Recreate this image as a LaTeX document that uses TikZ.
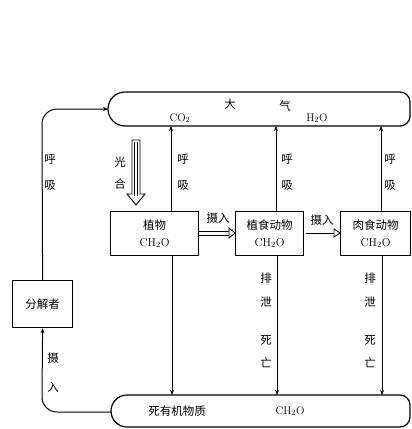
\documentclass[tikz,border=0pt]{standalone}
\usepackage{fontspec}
\newfontfamily\cjk{Noto Sans CJK SC}
\usetikzlibrary{arrows.meta}
\begin{document}
\begin{tikzpicture}[x=1pt,y=-1pt, line width=1pt,
 box/.style={draw, line width=1.2pt, inner sep=0pt, anchor=north west, align=center,
   font=\fontsize{11.5}{17}\selectfont},
 zh/.style={font=\cjk\fontsize{11.5}{11.5}\selectfont, inner sep=0pt},
 la/.style={font=\fontsize{11}{11}\selectfont, inner sep=0pt},
 arr/.style={-{Stealth[length=5pt,width=4pt]}},
 outline/.style={line width=1.2pt}]
\useasboundingbox (0,0) rectangle (412,429);

% atmosphere
\draw[outline] (125,92) -- (400,92) arc[start angle=-90,end angle=0,radius=10]
  -- (410,116) arc[start angle=0,end angle=90,radius=10] -- (125,126)
  arc[start angle=90,end angle=270,radius=17] -- cycle;
% dead organic matter
\draw[outline] (127,395) -- (400,395) arc[start angle=-90,end angle=0,radius=10]
  -- (410,417) arc[start angle=0,end angle=90,radius=10] -- (127,427)
  arc[start angle=90,end angle=270,radius=16] -- cycle;

\coordinate (atmL) at (108,109);
\coordinate (deadL) at (111,412);

% boxes
\node[box, minimum width=88pt, minimum height=44pt] (plant) at (110,211) {{\cjk 植物}\\CH$_2$O};
\node[box, minimum width=68pt, minimum height=44pt] (herb) at (235,211) {{\cjk 植食动物}\\CH$_2$O};
\node[box, minimum width=70pt, minimum height=44pt] (carn) at (340,211) {{\cjk 肉食动物}\\CH$_2$O};
\node[box, minimum width=60pt, minimum height=47pt, font=\cjk\fontsize{11.5}{12}\selectfont] (dec) at (12,280) {分解者};

% atmosphere labels
\node[zh] (da) at (230,104) {大};
\node[zh] (qi) at (285,106) {气};
\node[la] (co2) at (180,118) {CO$_2$};
\node[la] (h2o) at (317,118) {H$_2$O};

% respiration arrows
\coordinate (atmP) at (171,126);
\coordinate (atmH) at (276,126);
\coordinate (atmC) at (381,126);
\draw[arr] (plant.north -| atmP) -- (atmP);
\draw[arr] (herb.north -| atmH) -- (atmH);
\draw[arr] (carn.north -| atmC) -- (atmC);
\foreach \x/\n in {183/p,287/h,390/c,50/d}{
  \node[zh] (hu\n) at (\x,159) {呼};
  \node[zh] (xi\n) at (\x,186) {吸};
}

% decomposer loop
\draw[arr] (dec.north) -- (42,124) arc[start angle=180,end angle=270,radius=15] -- (atmL);
\draw[arr] (deadL) -- (57,412) arc[start angle=90,end angle=180,radius=15] -- (dec.south);
\node[zh] (she3) at (53,358) {摄};
\node[zh] (ru3) at (53,387) {入};

% photosynthesis hollow arrow
\draw[line width=0.9pt] (132,140) -- (140,140) -- (140,194) -- (145,194) -- (136,205)
  -- (127,194) -- (132,194) -- cycle;
\draw[line width=0.5pt] (134.5,142) -- (134.5,196) (137.5,142) -- (137.5,196);
\node[zh] (guang) at (120,162) {光};
\node[zh] (he) at (120,184) {合};

% intake arrows
\coordinate (i1a) at (plant.east |- 0,233);
\coordinate (i1b) at (herb.west |- 0,233);
\draw[line width=0.8pt] ([yshift=-2pt]i1a) -- ([xshift=-6pt,yshift=-2pt]i1b)
  ([yshift=2pt]i1a) -- ([xshift=-6pt,yshift=2pt]i1b);
\draw[line width=0.8pt] ([xshift=-6pt,yshift=-5pt]i1b) -- (i1b) -- ([xshift=-6pt,yshift=5pt]i1b) -- cycle;
\node[zh] (she1) at (218,218) {摄入};
\coordinate (i2a) at (herb.east |- 0,233);
\coordinate (i2b) at (carn.west |- 0,233);
\draw[line width=0.8pt] ([xshift=2pt]i2a) -- ([xshift=-6pt]i2b);
\draw[line width=0.8pt] ([xshift=-6pt,yshift=-4pt]i2b) -- (i2b) -- ([xshift=-6pt,yshift=4pt]i2b) -- cycle;
\node[zh] (she2) at (322,220) {摄入};

% down arrows
\coordinate (deadP) at (172,395);
\coordinate (deadH) at (277,395);
\coordinate (deadC) at (382,395);
\draw[arr] (plant.south -| deadP) -- (deadP);
\draw[arr] (herb.south -| deadH) -- (deadH);
\draw[arr] (carn.south -| deadC) -- (deadC);
\foreach \x/\n in {266/h,370/c}{
  \node[zh] (pai\n) at (\x,278) {排};
  \node[zh] (xie\n) at (\x,302) {泄};
  \node[zh] (si\n) at (\x,340) {死};
  \node[zh] (wang\n) at (\x,363) {亡};
}

\node[zh] (dead) at (177,411) {死有机物质};
\node[la] (ch2o) at (290,411) {CH$_2$O};
\end{tikzpicture}
\end{document}
